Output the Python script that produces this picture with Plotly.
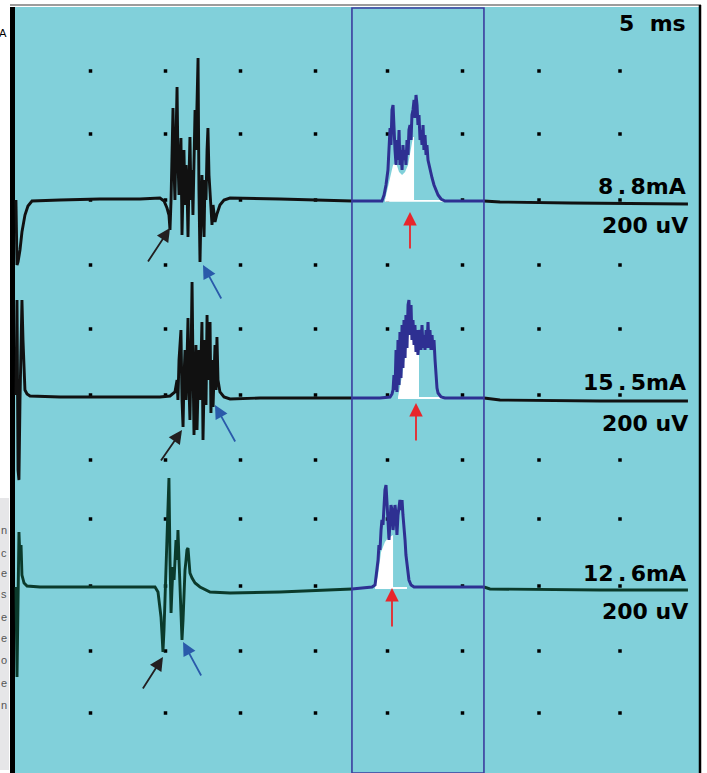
import plotly.graph_objects as go

# ---------------- data (time in ms, 5 ms/div; amplitude in uV, 200 uV/div) ----------------
T1 = [0.13, 0.20, 0.27, 0.40, 0.53, 0.73, 0.93, 1.20, 3.07, 5.73, 8.40, 9.73, 10.00, 10.20, 10.33,
      10.40, 10.47, 10.53, 10.60, 10.67, 10.73, 10.80, 10.87, 10.93, 11.00, 11.07, 11.13, 11.20, 11.27,
      11.33, 11.40, 11.47, 11.53, 11.60, 11.67, 11.73, 11.80, 11.87, 11.93, 12.00, 12.07, 12.13, 12.20,
      12.27, 12.33, 12.40, 12.47, 12.53, 12.60, 12.67, 12.73, 12.80, 12.87, 12.93, 13.00, 13.07, 13.13,
      13.20, 13.27, 13.33, 13.40, 13.53, 13.73, 14.00, 14.40, 17.73, 22.53,
      23.40, 24.53, 24.67, 24.80, 24.93, 25.00, 25.07, 25.13, 25.20, 25.27, 25.33, 25.40, 25.47, 25.53,
      25.60, 25.67, 25.73, 25.80, 25.87, 25.93, 26.00, 26.07, 26.13, 26.20, 26.27, 26.33, 26.40, 26.47,
      26.53, 26.60, 26.67, 26.73, 26.80, 26.87, 26.93, 27.00, 27.07, 27.13, 27.20, 27.27, 27.33, 27.40,
      27.47, 27.53, 27.60, 27.73, 27.87, 28.00, 28.13, 28.27, 28.47, 28.73, 31.33,
      32.40, 37.07, 44.93]
V1 = [0, -195, -186, -150, -96, -45, -18, -3, 0, 3, 3, 6, -3, -24, -45,
      -90, 0, 150, 276, 90, 0, 180, 339, 120, 15, 120, 186, -105, 60,
      150, -15, 105, 45, -111, 75, 189, 0, 90, -45, 120, 270, 150, 330,
      426, 30, -186, -30, 75, -30, -111, 60, 0, 150, 216, 75, 15, -45,
      -75, -15, -45, -66, -42, -15, 0, 6, 3, -3,
      -3, -3, 15, 45, 90, 150, 216, 165, 270, 285, 210, 150, 105, 180,
      120, 210, 105, 150, 90, 165, 120, 150, 105, 180, 135, 210, 225, 180,
      255, 270, 300, 246, 315, 285, 225, 255, 180, 210, 165, 225, 150, 195,
      135, 165, 120, 90, 66, 45, 30, 15, 3, -3, -3,
      -6, -9, -12]

T2 = [0.13, 0.20, 0.27, 0.33, 0.40, 0.47, 0.53, 0.60, 0.67, 0.73, 0.87, 1.07, 3.07, 7.07, 9.73,
      10.40, 10.73, 10.87, 10.93, 11.00, 11.07, 11.13, 11.20, 11.27, 11.33, 11.40, 11.47, 11.53, 11.60,
      11.67, 11.73, 11.80, 11.87, 11.93, 12.00, 12.07, 12.13, 12.20, 12.27, 12.33, 12.40, 12.47, 12.53,
      12.60, 12.67, 12.73, 12.80, 12.87, 12.93, 13.00, 13.07, 13.13, 13.20, 13.27, 13.33, 13.40, 13.47,
      13.53, 13.60, 13.73, 14.00, 14.40, 16.40, 22.53,
      24.40, 25.07, 25.20, 25.27, 25.33, 25.40, 25.47, 25.53, 25.60, 25.67, 25.73, 25.80, 25.87, 25.93,
      26.00, 26.07, 26.13, 26.20, 26.27, 26.33, 26.40, 26.47, 26.53, 26.60, 26.67, 26.73, 26.80, 26.87,
      26.93, 27.00, 27.07, 27.13, 27.20, 27.27, 27.33, 27.40, 27.47, 27.53, 27.60, 27.67, 27.73, 27.80,
      27.87, 27.93, 28.00, 28.07, 28.13, 28.20, 28.27, 28.47, 28.73, 31.33,
      32.40, 39.07, 44.93]
V2 = [0, 285, -225, -255, -15, 195, 285, 165, 45, 15, 3, -3, -6, -6, -6,
      -3, 9, 45, -15, 105, 150, 195, -15, -96, 45, 135, -15, 105, 231,
      15, -75, 105, 339, 105, -120, 45, 150, -105, 75, 135, -15, 105, 219,
      -135, 45, 165, -30, 240, 45, 135, 219, -54, 105, -36, 75, 150, 15,
      174, 45, 9, -6, -12, -9, -9,
      -9, -6, 3, 15, 60, 15, 135, 9, 165, 30, 189, 51, 210, 81,
      225, 111, 240, 141, 270, 285, 180, 270, 165, 225, 150, 210, 129, 195,
      120, 165, 195, 135, 210, 141, 180, 135, 195, 141, 219, 141, 195, 135,
      180, 135, 165, 105, 60, 21, 6, -6, -9, -9,
      -15, -18, -18]

T3 = [0.13, 0.20, 0.27, 0.33, 0.40, 0.47, 0.53, 0.67, 0.87, 1.73, 5.73, 9.40, 9.60, 9.73, 9.80,
      9.87, 9.93, 10.00, 10.07, 10.13, 10.20, 10.27, 10.33, 10.40, 10.47, 10.53, 10.60, 10.67, 10.73,
      10.80, 10.87, 10.93, 11.00, 11.07, 11.13, 11.20, 11.27, 11.33, 11.40, 11.47, 11.53, 11.60, 11.67,
      11.73, 11.87, 12.07, 12.40, 13.07, 14.40, 17.73, 22.53,
      23.07, 23.87, 24.07, 24.13, 24.20, 24.27, 24.33, 24.40, 24.47, 24.53, 24.60, 24.67, 24.73, 24.80,
      24.87, 24.93, 25.00, 25.07, 25.13, 25.20, 25.27, 25.33, 25.40, 25.47, 25.53, 25.60, 25.67, 25.73,
      25.80, 25.87, 25.93, 26.00, 26.07, 26.13, 26.20, 26.27, 26.33, 26.47, 26.67, 31.33,
      31.73, 39.07, 44.93]
V3 = [0, -270, -39, 165, 81, 126, 36, 12, 3, 0, 0, 0, -15, -54, -90,
      -144, -195, -129, -24, 66, 120, 231, 327, 81, -78, -9, 60, 21, 96,
      141, 81, 171, 81, -9, -84, -159, -99, 12, 51, 81, 111, 117, 81,
      42, 27, 12, 0, -15, -18, -15, -6,
      -3, 0, 6, 27, 51, 81, 126, 111, 171, 201, 186, 261, 291, 306,
      261, 201, 141, 186, 246, 231, 171, 201, 246, 216, 156, 216, 246, 261,
      231, 261, 216, 186, 141, 96, 66, 36, 21, 6, 0, 0,
      -6, -9, -9]

# shaded (white) area under the analysed potential, per trace
FILL1_T = [24.73, 24.87, 25.07, 25.27, 25.47, 25.67, 25.87, 26.07, 26.27, 26.47, 26.60, 26.67, 26.67, 28.73, 28.73, 24.73]
FILL1_V = [0, 30, 72, 105, 111, 84, 75, 84, 105, 150, 189, 189, 0, 0, -5, -5]
FILL2_T = [25.60, 25.73, 25.87, 26.00, 26.13, 26.27, 26.40, 26.60, 26.80, 27.00, 27.00, 28.73, 28.73, 25.60]
FILL2_V = [-6, 21, 57, 96, 135, 171, 195, 171, 141, 120, -6, -6, -12, -12]
FILL3_T = [24.07, 24.27, 24.47, 24.73, 24.93, 25.27, 25.27, 26.20, 26.20, 24.07]
FILL3_V = [0, 36, 105, 135, 147, 156, 0, 0, -6, -6]

STIM_LABELS = ["8 . 8mA", "15 . 5mA", "12 . 6mA"]
GAIN_LABEL = "200 uV"
SWEEP_LABEL = "5\u00a0\u00a0ms"

# ---------------- display settings ----------------
OFFSETS = [1719, 1134, 558]          # vertical position of each trace on screen (uV units)
WINDOW = (22.53, 31.33)              # analysis window (ms)
GRID_T = [5.1, 10.1, 15.1, 20.1, 24.9, 29.9, 35.0, 40.4]
GRID_Y = [2106, 1917, 1719, 1524, 1332, 1134, 939, 762, 561, 366, 180]
LABEL_Y = [(1761, 1644), (1173, 1050), (600, 486)]
BLACK_ARROWS = [((8.87, 1530), (10.4, 1635)), ((9.73, 933), (11.2, 1029)), ((8.53, 249), (9.93, 348))]
BLUE_ARROWS = [((13.87, 1419), (12.6, 1524)), ((14.8, 990), (13.4, 1104)), ((12.53, 288), (11.27, 393))]
RED_ARROWS = [((26.4, 1569), (26.4, 1683)), ((26.8, 993), (26.8, 1110)), ((25.2, 435), (25.2, 555))]

X_RANGE = [-14 / 15, 693 / 15]
Y_RANGE = [0, 2319]
CYAN = "#81D0DA"
TRACE_BLUE = "#2E3092"
TRACE_COLORS = ["#111111", "#111111", "#0B3A2B"]

fig = go.Figure()

# grid dots
gx, gy = [], []
for yv in GRID_Y:
    for tv in GRID_T:
        gx.append(tv)
        gy.append(yv)
fig.add_trace(go.Scatter(x=gx, y=gy, mode="markers",
                         marker=dict(symbol="square", size=3.5, color="black", line=dict(width=0)),
                         hoverinfo="skip"))

traces = [(T1, V1, FILL1_T, FILL1_V), (T2, V2, FILL2_T, FILL2_V), (T3, V3, FILL3_T, FILL3_V)]
w0, w1 = WINDOW
for i, (T, V, FT, FV) in enumerate(traces):
    off = OFFSETS[i]
    Y = [v + off for v in V]
    lx = [t for t in T if t <= w0]
    ly = [y for t, y in zip(T, Y) if t <= w0]
    rx = [t for t in T if t >= w1]
    ry = [y for t, y in zip(T, Y) if t >= w1]
    mx = [t for t in T if w0 <= t <= w1]
    my = [y for t, y in zip(T, Y) if w0 <= t <= w1]
    fig.add_trace(go.Scatter(x=lx + [None] + rx, y=ly + [None] + ry, mode="lines",
                             line=dict(color=TRACE_COLORS[i], width=2.9), hoverinfo="skip"))
    fig.add_trace(go.Scatter(x=FT, y=[v + off for v in FV], mode="lines", fill="toself",
                             fillcolor="white", line=dict(width=0, color="white"), hoverinfo="skip"))
    fig.add_trace(go.Scatter(x=mx, y=my, mode="lines",
                             line=dict(color=TRACE_BLUE, width=3), hoverinfo="skip"))

shapes = [
    # screen background
    dict(type="rect", xref="x", yref="y", x0=1 / 15, x1=685 / 15, y0=0, y1=2298,
         fillcolor=CYAN, line=dict(width=0), layer="below"),
    # left bezel
    dict(type="rect", xref="x", yref="y", x0=-4 / 15, x1=1 / 15, y0=0, y1=2298,
         fillcolor="black", line=dict(width=0), layer="below"),
    # top edge
    dict(type="line", xref="x", yref="y", x0=-4 / 15, x1=687 / 15, y0=2304, y1=2304,
         line=dict(color="#9C9C9C", width=2), layer="below"),
    # right edge
    dict(type="line", xref="x", yref="y", x0=686 / 15, x1=686 / 15, y0=0, y1=2304,
         line=dict(color="black", width=2.5), layer="below"),
    # page fragment at left
    dict(type="rect", xref="x", yref="y", x0=-14 / 15, x1=-5 / 15, y0=9, y1=825,
         fillcolor="#E6E6E8", line=dict(width=0), layer="below"),
    # analysis window
    dict(type="rect", xref="x", yref="y", x0=w0, x1=w1, y0=0, y1=2295,
         line=dict(color="#3B3D9E", width=1.6), layer="above"),
]

ann = []
font = dict(family="DejaVu Sans", size=22, color="black", weight="bold")
ann.append(dict(x=44.93, y=2250, xref="x", yref="y", text=SWEEP_LABEL, showarrow=False,
                xanchor="right", yanchor="middle", font=font))
for lab, (ys, yg) in zip(STIM_LABELS, LABEL_Y):
    ann.append(dict(x=44.93, y=ys, xref="x", yref="y", text=lab.replace(" ", "\u2009"), showarrow=False,
                    xanchor="right", yanchor="middle", font=font))
    ann.append(dict(x=45.07, y=yg, xref="x", yref="y", text=GAIN_LABEL, showarrow=False,
                    xanchor="right", yanchor="middle", font=font))

for arrows, col in [(BLACK_ARROWS, "#231F20"), (BLUE_ARROWS, "#2A5AAA"), (RED_ARROWS, "#E8262B")]:
    for (tail, tip) in arrows:
        ann.append(dict(x=tip[0], y=tip[1], ax=tail[0], ay=tail[1], xref="x", yref="y",
                        axref="x", ayref="y", text="", showarrow=True, arrowhead=2,
                        arrowsize=1.5, arrowwidth=1.8, arrowcolor=col, standoff=0))

# small text fragments of the surrounding page at the left edge
ann.append(dict(x=-0.38, y=2220, xref="x", yref="y", text="A", showarrow=False, xanchor="right",
                yanchor="middle", borderpad=0,
                font=dict(family="DejaVu Sans", size=11, color="black")))
CUT_LETTERS = ["n", "c", "e", "s", "e", "e", "o", "e", "n"]
CUT_Y = [729, 660, 600, 537, 468, 405, 339, 270, 204]
for ch, yv in zip(CUT_LETTERS, CUT_Y):
    ann.append(dict(x=-0.4, y=yv, xref="x", yref="y", text=ch, showarrow=False, xanchor="right",
                    yanchor="middle", borderpad=0,
                    font=dict(family="Liberation Sans", size=11, color="#555555")))

fig.update_layout(
    width=707, height=773, margin=dict(l=0, r=0, t=0, b=0),
    paper_bgcolor="white", plot_bgcolor="white", showlegend=False,
    xaxis=dict(range=X_RANGE, visible=False, fixedrange=True),
    yaxis=dict(range=Y_RANGE, visible=False, fixedrange=True),
    shapes=shapes, annotations=ann, hovermode=False,
)

fig.write_html("out.html")
